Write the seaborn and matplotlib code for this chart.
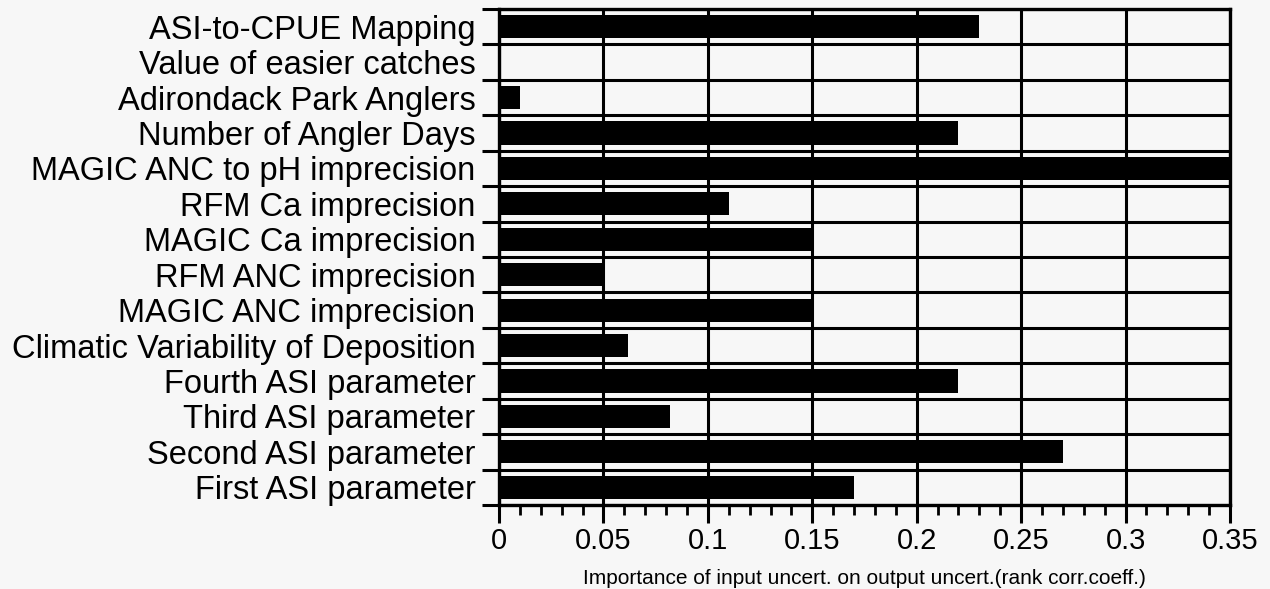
import matplotlib
matplotlib.use("Agg")
import matplotlib.pyplot as plt
import seaborn as sns
import pandas as pd
import numpy as np
from matplotlib.ticker import MultipleLocator, FixedLocator, NullFormatter, FixedFormatter

categories = [
    "ASI-to-CPUE Mapping",
    "Value of easier catches",
    "Adirondack Park Anglers",
    "Number of Angler Days",
    "MAGIC ANC to pH imprecision",
    "RFM Ca imprecision",
    "MAGIC Ca imprecision",
    "RFM ANC imprecision",
    "MAGIC ANC imprecision",
    "Climatic Variability of Deposition",
    "Fourth ASI parameter",
    "Third ASI parameter",
    "Second ASI parameter",
    "First ASI parameter",
]
values = [0.23, 0.0, 0.01, 0.22, 0.36, 0.11, 0.15, 0.05, 0.15, 0.062, 0.22, 0.082, 0.27, 0.17]
x_ticks = [0, 0.05, 0.1, 0.15, 0.2, 0.25, 0.3, 0.35]
x_tick_labels = ["0", "0.05", "0.1", "0.15", "0.2", "0.25", "0.3", "0.35"]
x_label = "Importance of input uncert. on output uncert.(rank corr.coeff.)"

df = pd.DataFrame({"factor": categories, "importance": values})

sns.set_style("white")
plt.rcParams["font.family"] = ["Liberation Sans", "DejaVu Sans"]

fig = plt.figure(figsize=(12.7, 5.89), dpi=100, facecolor="#f7f7f7")
ax = fig.add_axes([499 / 1270, 1 - 505 / 589, (1230 - 499) / 1270, (505 - 9) / 589])
ax.set_facecolor("#f7f7f7")

sns.barplot(data=df, x="importance", y="factor", order=categories, color="black",
            orient="h", width=0.65, saturation=1, ax=ax, zorder=3)
for p in ax.patches:
    p.set_edgecolor("none")

n = len(categories)
ax.set_xlim(0, 0.35)
ax.set_ylim(n - 0.5, -0.5)

# x axis
ax.xaxis.set_major_locator(FixedLocator(x_ticks))
ax.xaxis.set_major_formatter(FixedFormatter(x_tick_labels))
ax.xaxis.set_minor_locator(MultipleLocator(0.01))
ax.tick_params(axis="x", which="major", bottom=True, direction="out", length=13, width=2.2,
               labelsize=21, pad=3, colors="black")
ax.tick_params(axis="x", which="minor", bottom=True, direction="out", length=7, width=2.0,
               colors="black")
ax.set_xlabel(x_label, fontsize=15, color="black")
ax.xaxis.set_label_coords(0.5, -0.129)

# y axis: boundaries as major ticks, labels at centers
ax.yaxis.set_major_locator(FixedLocator(np.arange(-0.5, n, 1.0)))
ax.yaxis.set_major_formatter(NullFormatter())
ax.yaxis.set_minor_locator(FixedLocator(np.arange(n)))
ax.yaxis.set_minor_formatter(FixedFormatter(categories))
ax.tick_params(axis="y", which="major", left=True, direction="out", length=12, width=2.2,
               colors="black")
ax.tick_params(axis="y", which="minor", left=True, length=0, labelsize=23.5, pad=17,
               colors="black")
ax.set_ylabel("")

ax.grid(True, which="major", axis="both", color="black", linewidth=2.2, zorder=1)
ax.set_axisbelow(True)
for s in ax.spines.values():
    s.set_visible(True)
    s.set_color("black")
    s.set_linewidth(2.4)

fig.savefig("out.png", dpi=100, facecolor=fig.get_facecolor())
